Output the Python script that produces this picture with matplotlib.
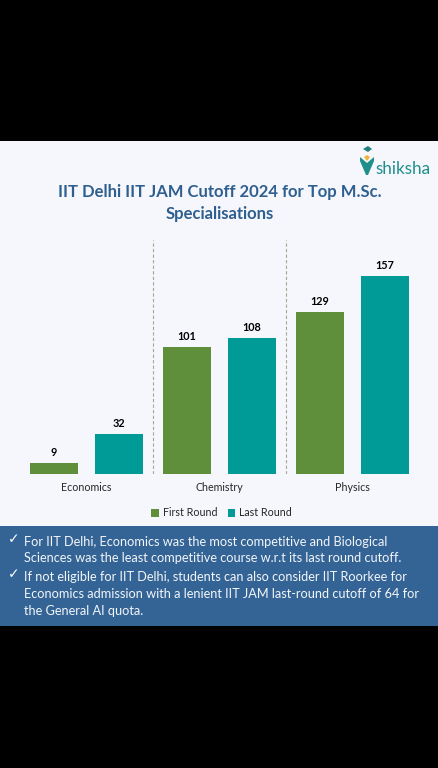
import numpy as np
from matplotlib import pyplot as plt
from matplotlib.patches import Rectangle, Polygon

categories = ['Economics', 'Chemistry', 'Physics']
first_round = [9, 101, 129]
last_round = [32, 108, 157]
series_names = ['First Round', 'Last Round']

title_lines = ['IIT Delhi IIT JAM Cutoff 2024 for Top M.Sc.', 'Specialisations']
bullets = [
    ['For IIT Delhi, Economics was the most competitive and Biological',
     'Sciences was the least competitive course w.r.t its last round cutoff.'],
    ['If not eligible for IIT Delhi, students can also consider IIT Roorkee for',
     'Economics admission with a lenient IIT JAM last-round cutoff of 64 for',
     'the General AI quota.'],
]

W, H = 439., 768.
green = '#5f8f3a'
teal = '#009b96'
blue = '#346495'
titlecol = '#2f5f8f'

plt.rcParams['font.family'] = ['Lato', 'DejaVu Sans']


def fx(x):
    return x/W


def fy(y):
    return 1-y/H


fig = plt.figure(figsize=(W/100, H/100), dpi=100, facecolor='black')

# panels behind the chart
fig.patches.append(Rectangle((0, fy(526)), 1, (526-141)/H, transform=fig.transFigure,
                             facecolor='#f6f7fc', edgecolor='none', zorder=-2))
fig.patches.append(Rectangle((0, fy(626)), 1, 100/H, transform=fig.transFigure,
                             facecolor=blue, edgecolor='none', zorder=-2))

ax = fig.add_axes([fx(20), fy(474), 399/W, 234/H])
ax.patch.set_alpha(0)
xs = np.arange(len(categories))
offset = 0.244
barw = 0.36
ax.bar(xs-offset, first_round, barw, color=green, label=series_names[0])
ax.bar(xs+offset, last_round, barw, color=teal, label=series_names[1])
for x, v in zip(xs, first_round):
    ax.text(x-offset, v+4, str(v), ha='center', va='bottom', fontsize=7.8, fontweight='bold', color='black')
for x, v in zip(xs, last_round):
    ax.text(x+offset, v+4, str(v), ha='center', va='bottom', fontsize=7.8, fontweight='bold', color='black')
for x in [0.5, 1.5]:
    ax.axvline(x, color='#a8a890', lw=0.8, ls=(0, (3, 2)))
ax.set_xlim(-0.5, 2.5)
ax.set_ylim(0, 186)
ax.set_yticks([])
ax.set_xticks(xs)
ax.set_xticklabels(categories, fontsize=7.7, color='#262626')
ax.tick_params(axis='x', length=0, pad=6)
for s in ax.spines.values():
    s.set_visible(False)

leg = fig.legend(loc='center', bbox_to_anchor=(fx(221.5), fy(513)), ncol=2, frameon=False,
                 fontsize=7.7, handlelength=0.7, handleheight=0.7, handletextpad=0.35,
                 columnspacing=1.0, labelcolor='#262626', borderpad=0)

fig.text(fx(219.5), fy(192), title_lines[0], ha='center', va='center', fontsize=12.0,
         fontweight='bold', color=titlecol)
fig.text(fx(219.5), fy(214.5), title_lines[1], ha='center', va='center', fontsize=12.0,
         fontweight='bold', color=titlecol)

# logo
fig.text(fx(375), fy(174), 'shiksha', ha='left', va='baseline', fontsize=12.3, color='#1f8f8c')
fig.patches.append(Polygon([(fx(360), fy(157)), (fx(367), fy(163)), (fx(374), fy(157)),
                            (fx(374), fy(161)), (fx(368), fy(175)), (fx(366), fy(175)), (fx(360), fy(161))],
                           transform=fig.transFigure, facecolor='#1f8f8c', edgecolor='none'))
fig.patches.append(Polygon([(fx(364), fy(157)), (fx(367), fy(161)), (fx(370), fy(157)), (fx(367), fy(155))],
                           transform=fig.transFigure, facecolor='#e8b43a', edgecolor='none'))
fig.patches.append(Polygon([(fx(363), fy(149)), (fx(368), fy(146)), (fx(372), fy(149)), (fx(368), fy(152))],
                           transform=fig.transFigure, facecolor='#1f7f7c', edgecolor='none'))

# notes
ypos = [[541.5, 558.5], [577, 594, 611]]
for lines, ys in zip(bullets, ypos):
    fig.text(fx(13.5), fy(ys[0]-2.5), '\u2713', ha='center', va='center', fontsize=10,
             color='white', family='DejaVu Sans', fontweight='bold')
    for line, y in zip(lines, ys):
        fig.text(fx(24), fy(y), line, ha='left', va='center', fontsize=9.2, color='#f2f5fa')

fig.savefig('out.png', dpi=100, facecolor='black')
